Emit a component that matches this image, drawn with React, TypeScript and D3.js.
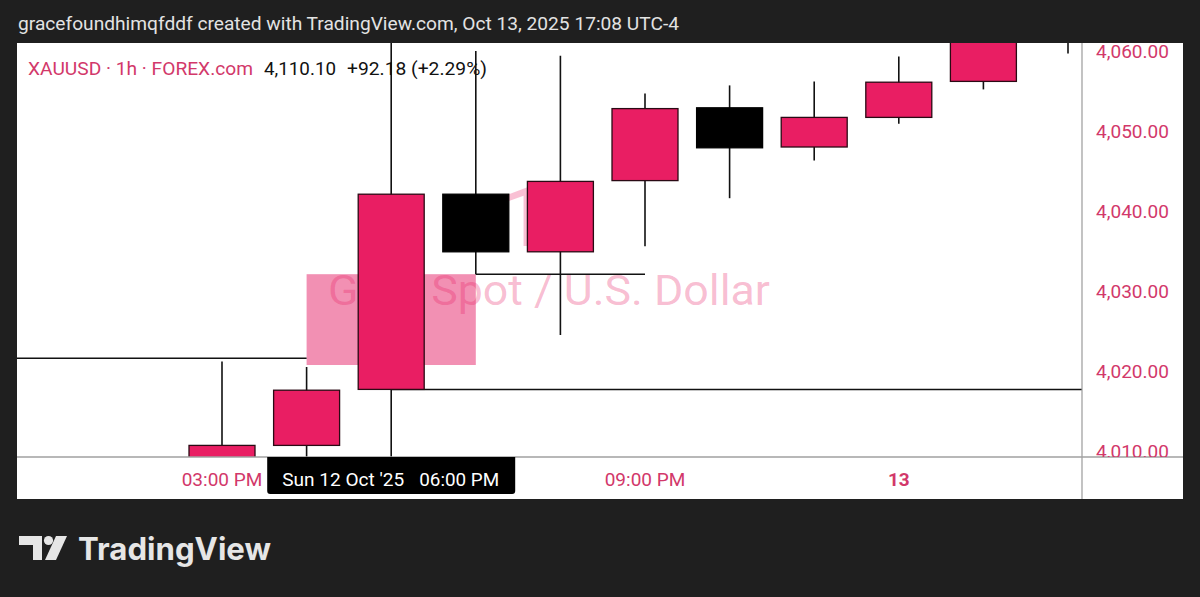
import React from "react";
import * as d3 from "d3";

// ---- data ----
const times = ["Fri 3PM", "Fri 4PM", "Sun 6PM", "Sun 7PM", "Sun 8PM", "Sun 9PM", "Sun 10PM", "Sun 11PM", "Mon 12AM", "Mon 1AM", "Mon 2AM"];
const opens = [4008.5, 4010.7, 4017.7, 4042.1, 4034.9, 4043.8, 4052.9, 4048.0, 4051.7, 4056.2, 4072.0];
const highs = [4021.2, 4020.5, 4066.0, 4060.0, 4059.4, 4054.7, 4055.7, 4056.2, 4059.3, 4075.0, 4085.0];
const lows = [4005.0, 4007.0, 4004.0, 4032.1, 4024.5, 4035.6, 4041.6, 4046.3, 4050.9, 4055.2, 4059.7];
const closes = [4010.7, 4017.6, 4042.1, 4034.9, 4043.7, 4052.8, 4047.9, 4051.7, 4056.1, 4068.0, 4078.0];

const priceTicks = [4010, 4020, 4030, 4040, 4050, 4060];
const timeTicks = [
  { at: "Fri 3PM", label: "03:00 PM", bold: false },
  { at: "Sun 9PM", label: "09:00 PM", bold: false },
  { at: "Mon 12AM", label: "13", bold: true },
];
const crosshairAt = "Sun 6PM";
const crosshairDate = "Sun 12 Oct '25";
const crosshairTime = "06:00 PM";

// annotations (prices)
const fvgBox = { from: "Fri 4PM", to: "Sun 7PM", top: 4032.1, bottom: 4020.75 };
const hLines = [
  { from: null as string | null, to: "Fri 4PM", price: 4021.6 },
  { from: "Sun 6PM", to: null as string | null, price: 4017.7 },
  { from: "Sun 7PM", to: "Sun 9PM", price: 4032.1 },
];

const headerText = "gracefoundhimqfddf created with TradingView.com, Oct 13, 2025 17:08 UTC-4";
const legendSymbol = "XAUUSD · 1h · FOREX.com";
const legendPrice = "4,110.10";
const legendChange = "+92.18 (+2.29%)";
const watermarkBig = "1h";
const watermarkDesc = "Gold Spot / U.S. Dollar";

const W = 1200, H = 597;
const panel = { l: 17, t: 43, r: 1183, b: 499 };
const plot = { l: 17, t: 43, r: 1082, b: 457 };
const PINK = "#e91e63";
const AXIS_PINK = "#d2386a";
const FONT = "Roboto, 'Noto Sans', sans-serif";

export default function App() {
  const x = d3.scalePoint<string>().domain(times).range([222, 1068]);
  const y = d3.scaleLinear().domain([4010, 4060]).range([451, 51]);
  const step = x.step();
  const bw = step * 0.78;
  const cxh = x(crosshairAt) as number;

  const xOr = (k: string | null, dflt: number) => (k == null ? dflt : (x(k) as number));

  return (
    <svg width={W} height={H} style={{ position: "fixed", left: 0, top: 0 }} fontFamily={FONT}>
      <rect x={0} y={0} width={W} height={H} fill="#1f1f1f" />
      <text x={18} y={30} fill="#e3e3e3" fontSize={18} textLength={661} lengthAdjust="spacingAndGlyphs">
        {headerText}
      </text>
      <rect x={panel.l} y={panel.t} width={panel.r - panel.l} height={panel.b - panel.t} fill="#ffffff" />
      <defs>
        <clipPath id="plotClip">
          <rect x={plot.l} y={plot.t} width={plot.r - plot.l} height={plot.b - plot.t} />
        </clipPath>
        <clipPath id="priceClip">
          <rect x={plot.r} y={plot.t} width={panel.r - plot.r} height={plot.b - plot.t} />
        </clipPath>
      </defs>
      <g clipPath="url(#plotClip)">
        {/* FVG box */}
        <rect
          x={x(fvgBox.from) as number}
          y={y(fvgBox.top)}
          width={(x(fvgBox.to) as number) - (x(fvgBox.from) as number)}
          height={y(fvgBox.bottom) - y(fvgBox.top)}
          fill="#f290b3"
        />
        {/* watermark */}
        <text x={548} y={246} fontSize={84} fill="rgba(233,30,99,0.28)" textAnchor="middle">
          {watermarkBig}
        </text>
        <text x={328} y={305} fontSize={43} fill="rgba(233,30,99,0.3)" textLength={442} lengthAdjust="spacingAndGlyphs">
          {watermarkDesc}
        </text>
        {/* horizontal lines */}
        {hLines.map((h, i) => (
          <line
            key={i}
            x1={xOr(h.from, plot.l)}
            x2={xOr(h.to, plot.r)}
            y1={y(h.price)}
            y2={y(h.price)}
            stroke="#111"
            strokeWidth={1.5}
          />
        ))}
        {/* candles */}
        {times.map((t, i) => {
          const cx = x(t) as number;
          const up = closes[i] >= opens[i];
          const top = y(Math.max(opens[i], closes[i]));
          const bot = y(Math.min(opens[i], closes[i]));
          return (
            <g key={t}>
              <line x1={cx} x2={cx} y1={y(highs[i])} y2={y(lows[i])} stroke="#111" strokeWidth={1.6} />
              <rect
                x={cx - bw / 2}
                y={top}
                width={bw}
                height={Math.max(1, bot - top)}
                fill={up ? PINK : "#000"}
                stroke={up ? "#2a0a14" : "#000"}
                strokeWidth={1.3}
              />
            </g>
          );
        })}
      </g>
      {/* axes lines */}
      <line x1={plot.r} x2={plot.r} y1={panel.t} y2={panel.b} stroke="#9a9a9a" strokeWidth={1.2} />
      <line x1={panel.l} x2={panel.r} y1={plot.b} y2={plot.b} stroke="#a0a0a0" strokeWidth={1.5} />
      {/* price axis labels */}
      <g clipPath="url(#priceClip)">
        {priceTicks.map((p) => (
          <text key={p} x={1096} y={y(p) + 6.5} fontSize={18.5} fill={AXIS_PINK} textLength={73} lengthAdjust="spacingAndGlyphs">
            {d3.format(",.2f")(p)}
          </text>
        ))}
      </g>
      {/* time axis labels */}
      {timeTicks.map((tk) => (
        <text
          key={tk.label}
          x={x(tk.at) as number}
          y={486}
          fontSize={19}
          fill={AXIS_PINK}
          fontWeight={tk.bold ? 700 : 400}
          textAnchor="middle"
        >
          {tk.label}
        </text>
      ))}
      {/* crosshair time label */}
      <g>
        <path
          d={`M${cxh - 124},${plot.b} H${cxh + 124} V${491} Q${cxh + 124},494 ${cxh + 121},494 H${cxh - 121} Q${cxh - 124},494 ${cxh - 124},491 Z`}
          fill="#000"
        />
        <text x={cxh - 109} y={486} fontSize={19} fill="#fff" textLength={122} lengthAdjust="spacingAndGlyphs">
          {crosshairDate}
        </text>
        <text x={cxh + 28} y={486} fontSize={19} fill="#fff" textLength={80} lengthAdjust="spacingAndGlyphs">
          {crosshairTime}
        </text>
      </g>
      {/* legend */}
      <text x={28} y={75} fontSize={17.5} fill={AXIS_PINK} textLength={225} lengthAdjust="spacingAndGlyphs">
        {legendSymbol}
      </text>
      <text x={264} y={75} fontSize={17.5} fill="#111" textLength={72} lengthAdjust="spacingAndGlyphs">
        {legendPrice}
      </text>
      <text x={347} y={75} fontSize={17.5} fill="#111" textLength={140} lengthAdjust="spacingAndGlyphs">
        {legendChange}
      </text>
      {/* TradingView logo */}
      <g fill="#e6e6e6">
        <path d="M19,536 H42 V560 H33 V545 H19 Z" />
        <circle cx={48.5} cy={540.5} r={4.6} />
        <path d="M56,536 H67 L56,560 H45 Z" />
        <text x={78} y={560} fontSize={31} fontWeight={700} fontFamily="Inter, Lato, sans-serif" textLength={193} lengthAdjust="spacingAndGlyphs">
          TradingView
        </text>
      </g>
    </svg>
  );
}
